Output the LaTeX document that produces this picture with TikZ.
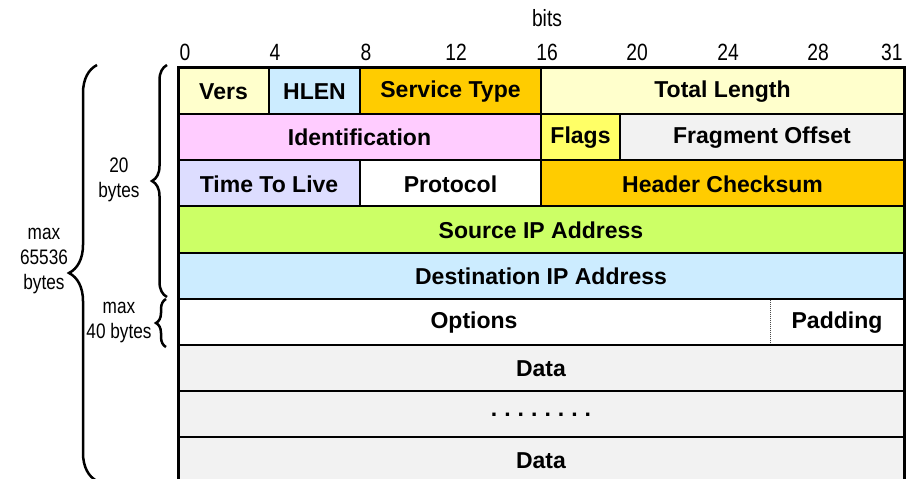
\documentclass[tikz,border=0pt]{standalone}
\usepackage{fontspec}
\setmainfont{Liberation Sans}
\newfontfamily\narrowsf[FakeStretch=0.82]{Liberation Sans}
\usetikzlibrary{decorations.pathreplacing}
\definecolor{paleyellow}{HTML}{FFFFCC}
\definecolor{paleblue}{HTML}{CCECFF}
\definecolor{ipgold}{HTML}{FFCC00}
\definecolor{palepink}{HTML}{FFCCFF}
\definecolor{flagyellow}{HTML}{FFFF66}
\definecolor{palegrey}{HTML}{F2F2F2}
\definecolor{lavender}{HTML}{DDDDFF}
\definecolor{limegreen}{HTML}{CCFF66}
\tikzset{
  field/.style={draw, line width=2pt},
  fieldtext/.style={font=\fontsize{23}{26}\selectfont\bfseries, yshift=-1pt},
  bitnum/.style={font=\narrowsf\fontsize{23.5}{25}\selectfont},
  sidenote/.style={font=\narrowsf\fontsize{21}{25}\selectfont, align=center},
  bytebrace/.style={decorate, decoration={brace, amplitude=#1}, line width=2.5pt},
}
\begin{document}
\begin{tikzpicture}[x=1pt,y=1pt]
  \useasboundingbox (0,0) rectangle (919,-479);
  % bit scale
  \node[bitnum] (bits) at (547,-18) {bits};
  \node[bitnum] (b0) at (185,-52) {0};
  \node[bitnum] (b4) at (275,-52) {4};
  \node[bitnum] (b8) at (366,-52) {8};
  \node[bitnum] (b12) at (456,-52) {12};
  \node[bitnum] (b16) at (547,-52) {16};
  \node[bitnum] (b20) at (637,-52) {20};
  \node[bitnum] (b24) at (728,-52) {24};
  \node[bitnum] (b28) at (818,-52) {28};
  \node[bitnum, anchor=east] (b31) at (906,-52) {31};
  % header words
  \draw[field, fill=paleyellow] (178,-67) rectangle (269,-113.5) node[midway, fieldtext](vers){Vers};
  \draw[field, fill=paleblue] (269,-67) rectangle (360,-113.5) node[midway, fieldtext](hlen){HLEN};
  \draw[field, fill=ipgold] (360,-67) rectangle (541,-113.5) node[midway, fieldtext](tos){Service Type};
  \draw[field, fill=paleyellow] (541,-67) rectangle (904,-113.5) node[midway, fieldtext](totlen){Total Length};
  \draw[field, fill=palepink] (178,-113.5) rectangle (541,-159.8) node[midway, fieldtext](ident){Identification};
  \draw[field, fill=flagyellow] (541,-113.5) rectangle (620,-159.8) node[midway, fieldtext](flags){Flags};
  \draw[field, fill=palegrey] (620,-113.5) rectangle (904,-159.8) node[midway, fieldtext](fragoff){Fragment Offset};
  \draw[field, fill=lavender] (178,-159.8) rectangle (360,-206) node[midway, fieldtext](ttl){Time To Live};
  \draw[field, fill=white] (360,-159.8) rectangle (541,-206) node[midway, fieldtext](proto){Protocol};
  \draw[field, fill=ipgold] (541,-159.8) rectangle (904,-206) node[midway, fieldtext](cksum){Header Checksum};
  \draw[field, fill=limegreen] (178,-206) rectangle (904,-252.5) node[midway, fieldtext](srcip){Source IP Address};
  \draw[field, fill=paleblue] (178,-252.5) rectangle (904,-298.7) node[midway, fieldtext](dstip){Destination IP Address};
  % options and padding
  \draw[field, fill=white] (178,-298.7) rectangle (904,-345);
  \path (178,-298.7) rectangle (770,-345) node[midway, fieldtext](options){Options};
  \path (770,-298.7) rectangle (904,-345) node[midway, fieldtext](padding){Padding};
  \draw[line width=1pt, densely dotted, black!70] (770,-299.7) -- (770,-344);
  % payload
  \draw[field, fill=palegrey] (178,-345) rectangle (904,-391) node[midway, fieldtext](data1){Data};
  \draw[field, fill=palegrey] (178,-391) rectangle (904,-437) node[midway, fieldtext](dots){.\hspace{7pt}.\hspace{7pt}.\hspace{7pt}.\hspace{7pt}.\hspace{7pt}.\hspace{7pt}.\hspace{7pt}.};
  \draw[field, fill=palegrey] (178,-437) rectangle (904,-483) node[midway, fieldtext](data2){Data};
  \draw[line width=3pt] (178,-67) rectangle (904,-483);
  % sizes
  \draw[bytebrace=15pt] (167,-297) -- (167,-65);
  \node[sidenote] (hdr) at (119,-180) {20\\bytes};
  \draw[bytebrace=10pt] (166,-347) -- (166,-299);
  \node[sidenote] (opt) at (119,-323) {max\\40 bytes};
  \draw[bytebrace=28pt] (97,-481) -- (97,-65);
  \node[sidenote] (total) at (44,-261) {max\\65536\\bytes};
\end{tikzpicture}
\end{document}
